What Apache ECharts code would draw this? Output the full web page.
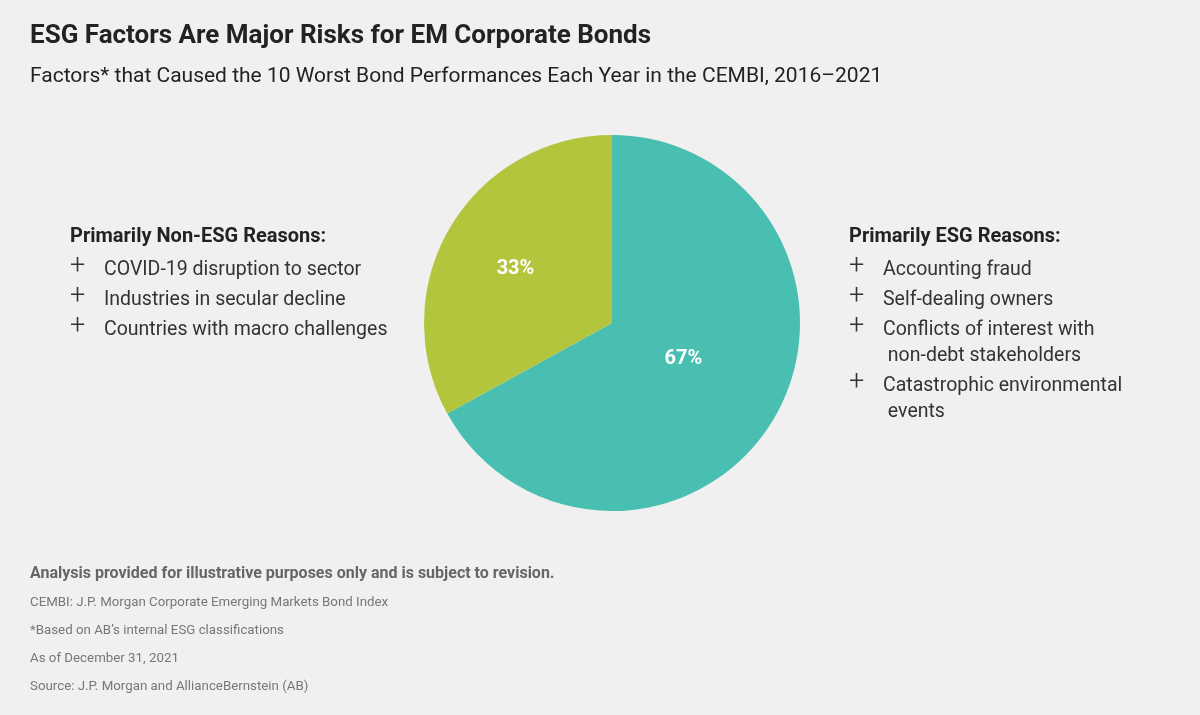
<!DOCTYPE html>
<html><head><meta charset="utf-8">
<script src="https://cdn.jsdelivr.net/npm/echarts@6/dist/echarts.min.js"></script>
<style>html,body{margin:0;padding:0;background:#f0f0f0}#c{width:1200px;height:715px}</style>
</head><body><div id="c"></div>
<script>
const categories = ['Primarily ESG Reasons', 'Primarily Non-ESG Reasons'];
const shares = [67, 33];
const colors = ['#48bfb1', '#b3c43d'];
const esgReasons = ['Accounting fraud', 'Self-dealing owners', 'Conflicts of interest with\n non-debt stakeholders', 'Catastrophic environmental\n events'];
const nonEsgReasons = ['COVID-19 disruption to sector', 'Industries in secular decline', 'Countries with macro challenges'];
const notes = ['CEMBI: J.P. Morgan Corporate Emerging Markets Bond Index', '*Based on AB\u2019s internal ESG classifications', 'As of December 31, 2021', 'Source: J.P. Morgan and AllianceBernstein (AB)'];

const chart = echarts.init(document.getElementById('c'));
const FONT = 'Roboto';

function block(x, y, heading, items) {
  const els = [{type:'text', left:x, top:y, style:{text:heading + ':', font:'bold 20px ' + FONT, fill:'#222'}}];
  let yy = y + 30;
  items.forEach(t => {
    const lines = t.split('\n');
    els.push({type:'text', left:x, top:yy - 3, style:{text:'+', font:'300 27px ' + FONT, fill:'#333'}});
    els.push({type:'text', left:x + 34, top:yy, style:{text:t, font:'19.5px ' + FONT, fill:'#333', lineHeight:26}});
    yy += 30 + (lines.length - 1) * 26;
  });
  return els;
}

const graphics = [].concat(
  block(70, 227, categories[1], nonEsgReasons),
  block(849, 227, categories[0], esgReasons),
  [{type:'text', left:30, top:566, style:{text:'Analysis provided for illustrative purposes only and is subject to revision.', font:'bold 16px ' + FONT, fill:'#666'}}],
  notes.map((n, i) => ({type:'text', left:30, top:596 + i * 28, style:{text:n, font:'13.3px ' + FONT, fill:'#777'}}))
);

chart.setOption({
  backgroundColor: '#f0f0f0',
  animation: false,
  title: [
    {text:'ESG Factors Are Major Risks for EM Corporate Bonds', left:30, top:23, padding:0, textStyle:{fontFamily:FONT, fontWeight:'bold', fontSize:26, color:'#222'}},
    {text:'Factors* that Caused the 10 Worst Bond Performances Each Year in the CEMBI, 2016\u20132021', left:30, top:66, padding:0, textStyle:{fontFamily:FONT, fontWeight:'normal', fontSize:21, color:'#222'}}
  ],
  graphic: graphics,
  series: [{
    type: 'pie',
    center: [612, 323],
    radius: 188,
    startAngle: 90,
    clockwise: true,
    silent: true,
    itemStyle: {borderWidth: 0},
    label: {position:'inside', formatter:'{c}%', color:'#fff', fontFamily:FONT, fontWeight:'bold', fontSize:20},
    labelLine: {show:false},
    data: categories.map((c, i) => ({
      name: c, value: shares[i], itemStyle: {color: colors[i]},
      label: {offset: i === 0 ? [-12, -13] : [-13, -5]}
    }))
  }]
});
</script></body></html>
